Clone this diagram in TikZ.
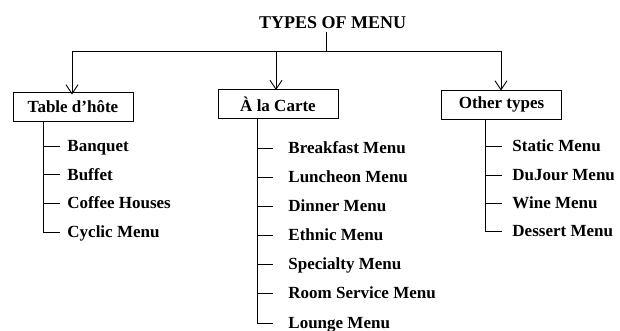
\documentclass[tikz,border=0pt]{standalone}
\usepackage{fontspec}
\setmainfont{Liberation Serif}
\usetikzlibrary{arrows.meta}
\begin{document}
\begin{tikzpicture}[x=1pt,y=-1pt, line width=0.9pt,
  cat/.style={draw, minimum width=120pt, minimum height=29pt, inner sep=0pt,
              font=\fontsize{17}{20}\selectfont\bfseries},
  item/.style={anchor=west, inner sep=0pt, text height=11.2pt, text depth=0pt,
               font=\fontsize{17}{20}\selectfont\bfseries},
  arr/.style={-{Straight Barb[length=9pt,width=12pt]}}]
\useasboundingbox (0,0) rectangle (620,331);
% title and hub
\node[font=\fontsize{18}{20}\selectfont\bfseries] (title) at (332.5,22.5) {TYPES OF MENU};
\coordinate (hub) at (326,51);
\coordinate (L) at (72,51);
\coordinate (M) at (276,51);
\coordinate (R) at (501,51);
% category boxes
\node[cat] (tbl) at (73,106.5) {Table d’hôte};
\node[cat] (car) at (278,104) {À la Carte};
\node[cat] (oth) at (501.5,104.5) {Other types};
\draw (title.south -| hub) -- (hub);
\draw (L) -- (R);
\draw[arr] (L) -- ([yshift=-3pt]tbl.north -| L);
\draw[arr] (M) -- ([yshift=-1pt]car.north -| M);
\draw[arr] (R) -- ([yshift=-1pt]oth.north -| R);
% stems
\coordinate (ts) at (43,0);
\coordinate (cs) at (257,0);
\coordinate (os) at (485,0);
% Table d'hote items
\node[item] (t1) at (67,146) {Banquet};
\node[item] (t2) at (67,174.5) {Buffet};
\node[item] (t3) at (67,203) {Coffee Houses};
\node[item] (t4) at (67,232) {Cyclic Menu};
\draw (tbl.south -| ts) |- ([xshift=-7pt]t4.west);
\foreach \n in {t1,t2,t3}{\draw (\n.west -| ts) -- ([xshift=-7pt]\n.west);}
% A la carte items
\node[item] (c1) at (288,148) {Breakfast Menu};
\node[item] (c2) at (288,177) {Luncheon Menu};
\node[item] (c3) at (288,206) {Dinner Menu};
\node[item] (c4) at (288,235) {Ethnic Menu};
\node[item] (c5) at (288,264) {Specialty Menu};
\node[item] (c6) at (288,293) {Room Service Menu};
\node[item] (c7) at (288,323) {Lounge Menu};
\draw (car.south -| cs) |- ([xshift=-15pt]c7.west);
\foreach \n in {c1,c2,c3,c4,c5,c6}{\draw (\n.west -| cs) -- ([xshift=-15pt]\n.west);}
% Other types items
\node[item] (o1) at (512,146) {Static Menu};
\node[item] (o2) at (512,175) {DuJour Menu};
\node[item] (o3) at (512,203) {Wine Menu};
\node[item] (o4) at (512,231) {Dessert Menu};
\draw (oth.south -| os) |- ([xshift=-10pt]o4.west);
\foreach \n in {o1,o2,o3}{\draw (\n.west -| os) -- ([xshift=-10pt]\n.west);}
\end{tikzpicture}
\end{document}
